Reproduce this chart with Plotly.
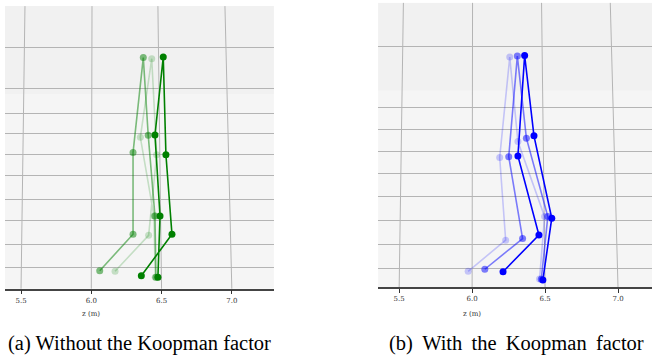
import plotly.graph_objects as go

# joint order: footA, ankleA, kneeA, hip, kneeB, ankleB, footB
joints = ["footA", "ankleA", "kneeA", "hip", "kneeB", "ankleB", "footB"]

# Panel (a): without the Koopman factor (green), z (m) and height
a_light_z = [6.455, 6.446, 6.349, 6.430, 6.465, 6.408, 6.169]
a_light_y = [0.081, 0.517, 1.077, 1.636, 0.953, 0.380, 0.124]
a_mid_z = [6.460, 6.453, 6.405, 6.370, 6.297, 6.297, 6.060]
a_mid_y = [0.081, 0.517, 1.092, 1.644, 0.968, 0.387, 0.128]
a_dark_z = [6.474, 6.489, 6.453, 6.512, 6.531, 6.574, 6.356]
a_dark_y = [0.081, 0.517, 1.093, 1.648, 0.953, 0.387, 0.092]

# Panel (b): with the Koopman factor (blue)
b_light_z = [6.462, 6.497, 6.314, 6.258, 6.189, 6.230, 5.973]
b_light_y = [0.057, 0.482, 0.994, 1.570, 0.885, 0.321, 0.109]
b_mid_z = [6.474, 6.519, 6.372, 6.310, 6.251, 6.346, 6.087]
b_mid_y = [0.055, 0.482, 1.017, 1.577, 0.891, 0.332, 0.123]
b_dark_z = [6.485, 6.546, 6.424, 6.360, 6.314, 6.458, 6.212]
b_dark_y = [0.050, 0.471, 1.033, 1.581, 0.896, 0.357, 0.106]

alphas = [0.2, 0.5, 1.0]

z_ticks = [5.5, 6.0, 6.5, 7.0]
z_tick_text = ["5.5", "6.0", "6.5", "7.0"]
# perspective: where the z grid lines reach the top edge of each panel
a_grid_top_z = [5.528, 6.005, 6.474, 6.951]
b_grid_top_z = [5.529, 6.003, 6.476, 6.947]
a_grid_y = [1.719, 1.427, 1.249, 1.107, 0.958, 0.802, 0.638, 0.482, 0.318, 0.154]
b_grid_y = [1.645, 1.229, 1.078, 0.928, 0.775, 0.618, 0.457, 0.294, 0.130]

captions = ["(a) Without the Koopman factor", "(b) With the Koopman factor"]

fig = go.Figure()

def add_panel(zs, ys, rgb, xa, ya):
    for z, y, a in zip(zs, ys, alphas):
        col = f"rgba({rgb},{a})"
        fig.add_trace(go.Scatter(
            x=z, y=y, mode="lines+markers", xaxis=xa, yaxis=ya,
            line=dict(color=col, width=1.6),
            marker=dict(color=col, size=7, line=dict(width=0)),
            showlegend=False, hoverinfo="skip"))

add_panel([a_light_z, a_mid_z, a_dark_z], [a_light_y, a_mid_y, a_dark_y], "0,128,0", "x", "y")
add_panel([b_light_z, b_mid_z, b_dark_z], [b_light_y, b_mid_y, b_dark_y], "0,0,255", "x2", "y2")

gridc = "#b4b4b4"
tickfont = dict(family="DejaVu Serif", size=7, color="#333333")
common_x = dict(tickvals=z_ticks, ticktext=z_tick_text, showgrid=False,
                zeroline=False, showline=True, linecolor="#444444", linewidth=1.5,
                ticks="outside", ticklen=4, tickcolor="#333333", tickfont=tickfont)
common_y = dict(showgrid=True, gridcolor=gridc, gridwidth=1, zeroline=False,
                showticklabels=False, ticks="", showline=False)

fig.update_layout(
    width=652, height=360, margin=dict(l=0, r=0, t=0, b=0),
    paper_bgcolor="white", plot_bgcolor="#f5f5f5",
    xaxis=dict(domain=[0.0077, 0.420], range=[5.386, 7.299], **common_x),
    yaxis=dict(domain=[0.198, 0.983], range=[0.0, 2.01], tickvals=a_grid_y, **common_y),
    xaxis2=dict(domain=[0.580, 1.0], range=[5.356, 7.233], anchor="y2", **common_x),
    yaxis2=dict(domain=[0.202, 0.992], range=[0.0, 1.940], tickvals=b_grid_y, anchor="x2", **common_y),
)

# darker back pane in the upper part of each panel
fig.add_shape(type="rect", xref="x domain", yref="y domain", x0=0, x1=1, y0=0.689, y1=1,
              fillcolor="#f1f1f1", line_width=0, layer="below")
fig.add_shape(type="rect", xref="x2 domain", yref="y2 domain", x0=0, x1=1, y0=0.6915, y1=1,
              fillcolor="#f1f1f1", line_width=0, layer="below")

# slightly converging z grid lines
for xr, yr, tops in [("x", "y domain", a_grid_top_z), ("x2", "y2 domain", b_grid_top_z)]:
    for zb, zt in zip(z_ticks, tops):
        fig.add_shape(type="line", xref=xr, yref=yr, x0=zb, y0=0, x1=zt, y1=1,
                      line=dict(color=gridc, width=1), layer="below")

for xr in ["x", "x2"]:
    fig.add_annotation(text="z (m)", x=6.0, xref=xr, y=0.128, yref="paper",
                       xanchor="center", yanchor="middle",
                       showarrow=False, font=dict(family="DejaVu Serif", size=7, color="#333333"))

fig.add_annotation(text=captions[0], x=0.214, y=0.047, xref="paper", yref="paper",
                   xanchor="center", yanchor="middle",
                   showarrow=False, font=dict(family="Liberation Serif", size=20.5, color="black"))
fig.add_annotation(text=captions[1].replace(" ", " \u2009"), x=0.792, y=0.047, xref="paper", yref="paper",
                   xanchor="center", yanchor="middle",
                   showarrow=False, font=dict(family="Liberation Serif", size=20.5, color="black"))

fig.write_html("out.html", config={"displayModeBar": False},
               post_script="document.body.style.margin='0';")
